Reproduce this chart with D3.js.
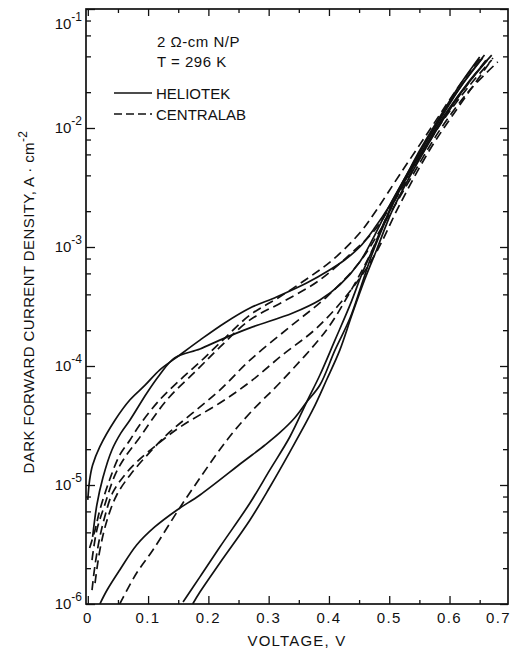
<!DOCTYPE html>
<html>
<head>
<meta charset="utf-8">
<script src="https://cdn.jsdelivr.net/npm/d3@7"></script>
<style>
  body { margin: 0; background: #fff; }
  text { font-family: "Liberation Sans", Arial, sans-serif; fill: #111; }
</style>
</head>
<body>
<div id="chart"></div>
<script>
// voltage (V), current density (A/cm^2)

// HELIOTEK (solid)
const heliotekA = [[0,7.5e-6],[0.003,1.1e-5],[0.008,1.47e-5],[0.020,2.1e-5],[0.045,3.5e-5],[0.070,5.2e-5],[0.095,6.9e-5],[0.119,9.25e-5],[0.148,1.19e-4],[0.186,1.65e-4],[0.227,2.3e-4],[0.269,3.07e-4],[0.313,3.8e-4],[0.363,4.98e-4],[0.401,6.41e-4],[0.426,7.78e-4],[0.451,1.0e-3],[0.476,1.45e-3],[0.501,2.25e-3],[0.526,3.8e-3],[0.551,6.53e-3],[0.584,1.24e-2],[0.617,2.3e-2],[0.650,3.95e-2]];
const heliotekB = [[0.008,3.66e-6],[0.015,6.8e-6],[0.025,1.15e-5],[0.040,1.97e-5],[0.055,2.74e-5],[0.070,3.52e-5],[0.098,5.93e-5],[0.119,8.4e-5],[0.144,1.17e-4],[0.186,1.39e-4],[0.219,1.65e-4],[0.269,2.09e-4],[0.340,2.79e-4],[0.385,3.59e-4],[0.418,4.8e-4],[0.451,7.48e-4],[0.476,1.26e-3],[0.501,2.25e-3],[0.526,3.8e-3],[0.551,6.28e-3],[0.584,1.17e-2],[0.617,2.17e-2],[0.658,4.1e-2]];
const heliotekC = [[0.020,1.0e-6],[0.032,1.31e-6],[0.053,1.93e-6],[0.081,3.13e-6],[0.111,4.44e-6],[0.148,6.17e-6],[0.186,8.24e-6],[0.257,1.56e-5],[0.294,2.17e-5],[0.318,2.74e-5],[0.343,3.66e-5],[0.363,4.98e-5],[0.385,6.92e-5],[0.410,1.36e-4],[0.435,2.53e-4],[0.454,4.8e-4],[0.471,8.57e-4],[0.493,1.62e-3],[0.517,3.01e-3],[0.551,5.93e-3],[0.592,1.29e-2],[0.634,2.53e-2],[0.670,4.1e-2]];
const heliotekD = [[0.158,1.04e-6],[0.186,1.69e-6],[0.219,3.01e-6],[0.269,7.06e-6],[0.302,1.34e-5],[0.335,2.53e-5],[0.363,4.98e-5],[0.385,8.4e-5],[0.410,1.65e-4],[0.435,3.26e-4],[0.456,6.17e-4],[0.476,1.04e-3],[0.501,2.05e-3],[0.526,3.66e-3],[0.551,6.28e-3],[0.584,1.21e-2],[0.617,2.17e-2],[0.655,3.87e-2]];
const heliotekE = [[0.174,1.0e-6],[0.186,1.26e-6],[0.219,2.21e-6],[0.269,5.08e-6],[0.302,9.62e-6],[0.335,1.89e-5],[0.373,4.27e-5],[0.396,7.63e-5],[0.418,1.36e-4],[0.438,2.68e-4],[0.459,5.28e-4],[0.479,9.44e-4],[0.504,1.97e-3],[0.531,3.66e-3],[0.559,6.53e-3],[0.592,1.24e-2],[0.625,2.17e-2],[0.663,3.73e-2]];

// CENTRALAB (dashed)
const centralabA = [[0.003,2.95e-6],[0.012,4.19e-6],[0.020,6.17e-6],[0.036,1.1e-5],[0.053,1.79e-5],[0.070,2.39e-5],[0.086,3.19e-5],[0.119,5.18e-5],[0.153,7.63e-5],[0.186,1.08e-4],[0.219,1.56e-4],[0.269,2.68e-4],[0.318,3.8e-4],[0.368,5.6e-4],[0.406,7.78e-4],[0.451,1.31e-3],[0.479,2.05e-3],[0.517,4.03e-3],[0.567,9.62e-3],[0.617,2.3e-2],[0.655,4.1e-2]];
const centralabB = [[0.007,2.34e-6],[0.015,4.19e-6],[0.028,6.79e-6],[0.045,1.21e-5],[0.061,1.69e-5],[0.083,2.39e-5],[0.131,5.18e-5],[0.181,9.25e-5],[0.219,1.44e-4],[0.269,2.44e-4],[0.323,3.45e-4],[0.380,5.08e-4],[0.434,8.57e-4],[0.479,1.45e-3],[0.517,3.01e-3],[0.567,7.93e-3],[0.617,1.89e-2],[0.663,3.87e-2]];
const centralabC = [[0.012,1.5e-6],[0.020,2.84e-6],[0.032,5.08e-6],[0.048,8.24e-6],[0.070,1.21e-5],[0.103,1.89e-5],[0.136,2.79e-5],[0.174,4.03e-5],[0.219,6.28e-5],[0.269,1.12e-4],[0.335,2.13e-4],[0.396,3.8e-4],[0.451,7.48e-4],[0.493,1.62e-3],[0.534,3.66e-3],[0.584,9.62e-3],[0.634,2.09e-2],[0.680,3.59e-2]];
const centralabD = [[0.007,1.31e-6],[0.012,2.13e-6],[0.020,3.66e-6],[0.028,5.38e-6],[0.041,8.57e-6],[0.061,1.21e-5],[0.081,1.56e-5],[0.114,2.17e-5],[0.153,3.07e-5],[0.219,4.89e-5],[0.269,7.34e-5],[0.323,1.24e-4],[0.380,2.09e-4],[0.434,4.19e-4],[0.476,8.57e-4],[0.517,2.25e-3],[0.567,6.53e-3],[0.617,1.56e-2],[0.672,3.87e-2]];
const centralabE = [[0.053,1.0e-6],[0.058,1.12e-6],[0.081,1.82e-6],[0.108,2.84e-6],[0.148,5.93e-6],[0.169,8.57e-6],[0.231,2.39e-5],[0.269,4.03e-5],[0.323,7.63e-5],[0.396,2.01e-4],[0.434,4.1e-4],[0.468,8.57e-4],[0.501,2.05e-3],[0.534,4.03e-3],[0.584,1.06e-2],[0.634,2.3e-2],[0.670,3.73e-2]];

const solidCurves = [heliotekA, heliotekB, heliotekC, heliotekD, heliotekE];
const dashedCurves = [centralabA, centralabB, centralabC, centralabD, centralabE];

// ticks
const xMajor = [0, 0.1, 0.2, 0.3, 0.4, 0.5, 0.6, 0.7];
const xLabels = ["0", "0.1", "0.2", "0.3", "0.4", "0.5", "0.6", "0.7"];
const xMinor = [0.05, 0.15, 0.25, 0.35, 0.45, 0.55, 0.65];
const yMajor = [1e-6, 1e-5, 1e-4, 1e-3, 1e-2, 1e-1];
const yExp = ["-6", "-5", "-4", "-3", "-2", "-1"];
const yMantissa = [2, 4, 6, 8];

const legendNames = ["HELIOTEK", "CENTRALAB"];

const W = 511, H = 653;
const plot = {left: 86, right: 508, top: 9, bottom: 604};

const svg = d3.select("#chart").append("svg")
  .attr("width", W)
  .attr("height", H);

const x = d3.scaleLinear().domain([-0.003, 0.697]).range([plot.left, plot.right]);
const y = d3.scaleLog().domain([1e-6, 1e-1]).range([plot.bottom, plot.top]);

const yMinor = [];
yMajor.slice(0, -1).forEach(d => yMantissa.forEach(m => yMinor.push(d * m)));

function clean(g) {
  g.select(".domain").remove();
  g.selectAll(".tick line").attr("stroke", "#111").attr("stroke-width", 1.3);
}

// inward ticks on all four sides
svg.append("g").attr("transform", `translate(${plot.left},0)`)
  .call(d3.axisLeft(y).tickValues(yMajor).tickSize(-9).tickFormat("")).call(clean);
svg.append("g").attr("transform", `translate(${plot.left},0)`)
  .call(d3.axisLeft(y).tickValues(yMinor).tickSize(-5).tickFormat("")).call(clean);
svg.append("g").attr("transform", `translate(${plot.right},0)`)
  .call(d3.axisRight(y).tickValues(yMajor).tickSize(-8).tickFormat("")).call(clean);
svg.append("g").attr("transform", `translate(${plot.right},0)`)
  .call(d3.axisRight(y).tickValues(yMinor).tickSize(-5).tickFormat("")).call(clean);

const xTicksIn = xMajor.filter(d => d < 0.69);
svg.append("g").attr("transform", `translate(0,${plot.bottom})`)
  .call(d3.axisBottom(x).tickValues(xTicksIn).tickSize(-8).tickFormat("")).call(clean);
svg.append("g").attr("transform", `translate(0,${plot.bottom})`)
  .call(d3.axisBottom(x).tickValues(xMinor).tickSize(-4).tickFormat("")).call(clean);
svg.append("g").attr("transform", `translate(0,${plot.top})`)
  .call(d3.axisTop(x).tickValues(xTicksIn).tickSize(-7).tickFormat("")).call(clean);
svg.append("g").attr("transform", `translate(0,${plot.top})`)
  .call(d3.axisTop(x).tickValues(xMinor).tickSize(-4).tickFormat("")).call(clean);

// frame
svg.append("rect")
  .attr("x", plot.left).attr("y", plot.top)
  .attr("width", plot.right - plot.left).attr("height", plot.bottom - plot.top)
  .attr("fill", "none").attr("stroke", "#111").attr("stroke-width", 1.7);

// x tick labels
svg.append("g").selectAll("text").data(xMajor).join("text")
  .attr("x", (d, i) => i === xMajor.length - 1 ? 511 : x(d))
  .attr("y", 623)
  .attr("text-anchor", (d, i) => i === xMajor.length - 1 ? "end" : "middle")
  .attr("font-size", 15)
  .attr("letter-spacing", 1.4)
  .text((d, i) => xLabels[i]);

// y tick labels 10^n
const yl = svg.append("g").selectAll("text").data(yMajor).join("text")
  .attr("x", 82)
  .attr("y", (d, i) => y(d) + 5 + (i === yMajor.length - 1 ? 15 : 0))
  .attr("text-anchor", "end")
  .attr("font-size", 15);
yl.append("tspan").text("10");
yl.append("tspan").attr("dy", -8).attr("font-size", 12).text((d, i) => yExp[i]);

// axis titles
svg.append("text")
  .attr("x", 297).attr("y", 646)
  .attr("text-anchor", "middle")
  .attr("font-size", 15)
  .attr("letter-spacing", 1.2)
  .text("VOLTAGE, V");

const yt = svg.append("text")
  .attr("transform", "translate(34,302) rotate(-90)")
  .attr("text-anchor", "middle")
  .attr("font-size", 15)
  .attr("letter-spacing", 0.4);
yt.append("tspan").text("DARK FORWARD CURRENT DENSITY, A \u00b7 cm");
yt.append("tspan").attr("dy", -7).attr("font-size", 12).text("-2");

// annotation
svg.append("text").attr("x", 157).attr("y", 47).attr("font-size", 15).attr("letter-spacing", 0.5).text("2 \u03a9-cm N/P");
svg.append("text").attr("x", 157).attr("y", 67).attr("font-size", 15).attr("letter-spacing", 0.5).text("T = 296 K");

// legend
const legend = svg.append("g");
legendNames.forEach((name, i) => {
  const ly = 93 + i * 21;
  legend.append("line")
    .attr("x1", 114).attr("x2", 152).attr("y1", ly).attr("y2", ly)
    .attr("stroke", "#111").attr("stroke-width", 1.5)
    .attr("stroke-dasharray", i === 1 ? "8,4" : null);
  legend.append("text").attr("x", 156).attr("y", ly + 5.5).attr("font-size", 15).text(name);
});

// curves
svg.append("clipPath").attr("id", "clip").append("rect")
  .attr("x", plot.left).attr("y", plot.top)
  .attr("width", plot.right - plot.left).attr("height", plot.bottom - plot.top);

const line = d3.line()
  .x(d => x(d[0]))
  .y(d => y(d[1]))
  .curve(d3.curveCatmullRom.alpha(0.5));

const curves = svg.append("g").attr("clip-path", "url(#clip)");
curves.selectAll(".solid").data(solidCurves).join("path")
  .attr("class", "solid")
  .attr("d", line)
  .attr("fill", "none").attr("stroke", "#111").attr("stroke-width", 1.7);
curves.selectAll(".dashed").data(dashedCurves).join("path")
  .attr("class", "dashed")
  .attr("d", line)
  .attr("fill", "none").attr("stroke", "#111").attr("stroke-width", 1.7)
  .attr("stroke-dasharray", "9,5");
</script>
</body>
</html>
